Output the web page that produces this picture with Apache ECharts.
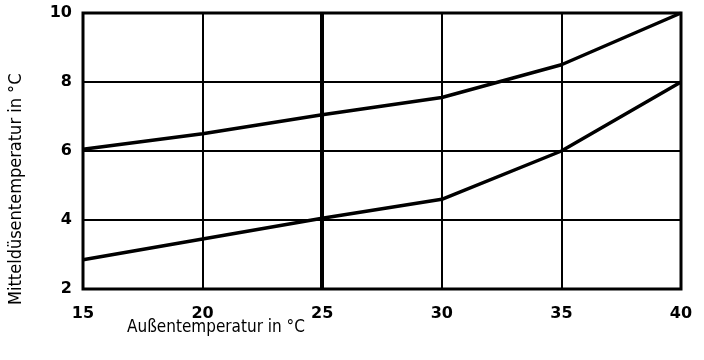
<!DOCTYPE html>
<html><head><meta charset="utf-8">
<script src="https://cdn.jsdelivr.net/npm/echarts@6/dist/echarts.min.js"></script>
<style>html,body{margin:0;padding:0;background:#fff}#c{width:704px;height:360px}</style>
</head><body><div id="c"></div>
<script>
var xTemps = [15, 20, 25, 30, 35, 40];
var upperCurve = [6.05, 6.5, 7.05, 7.55, 8.5, 10.0];
var lowerCurve = [2.85, 3.45, 4.05, 4.6, 6.0, 8.0];
var xTicks = [15, 20, 25, 30, 35, 40];
var yTicks = [2, 4, 6, 8, 10];
var xTitle = 'Außentemperatur in °C';
var yTitle = 'Mitteldüsentemperatur in °C';

var narrow = '"Liberation Sans Narrow","DejaVu Sans Condensed","Liberation Sans",sans-serif';
var chart = echarts.init(document.getElementById('c'));
function pairs(ys){ return xTemps.map(function(x,i){ return [x, ys[i]]; }); }
chart.setOption({
  animation: false,
  grid: {left: 83, right: 23, top: 13, bottom: 71, show: true, borderColor: '#000', borderWidth: 3, backgroundColor: '#fff'},
  xAxis: {type: 'value', min: 15, max: 40, interval: 5,
    axisLine: {show: false}, axisTick: {show: false},
    splitLine: {show: true, lineStyle: {color: '#000', width: 2}},
    axisLabel: {margin: 17, color: '#000', fontWeight: 'bold', fontSize: 16, fontFamily: '"DejaVu Sans", sans-serif',
      formatter: function(v){ return xTicks.indexOf(v) >= 0 ? String(v) : ''; }}},
  yAxis: {type: 'value', min: 2, max: 10, interval: 2,
    axisLine: {show: false}, axisTick: {show: false},
    splitLine: {show: true, lineStyle: {color: '#000', width: 2}},
    axisLabel: {margin: 11, color: '#000', fontWeight: 'bold', fontSize: 16, fontFamily: '"DejaVu Sans", sans-serif',
      formatter: function(v){ return yTicks.indexOf(v) >= 0 ? String(v) : ''; }}},
  graphic: [
    {type: 'text', left: 127, top: 319, style: {text: xTitle, fill: '#000', font: '17px ' + narrow}},
    {type: 'text', x: 7, y: 305, rotation: Math.PI/2, style: {text: yTitle, fill: '#000', font: '18px ' + narrow, textAlign: 'left', textVerticalAlign: 'top'}}
  ],
  series: [
    {type: 'line', data: pairs(upperCurve), symbol: 'none', lineStyle: {color: '#000', width: 3.5},
     markLine: {silent: true, symbol: 'none', label: {show: false}, lineStyle: {color: '#000', width: 4, type: 'solid'}, data: [{xAxis: 25}]}},
    {type: 'line', data: pairs(lowerCurve), symbol: 'none', lineStyle: {color: '#000', width: 3.5}}
  ]
});
</script></body></html>
